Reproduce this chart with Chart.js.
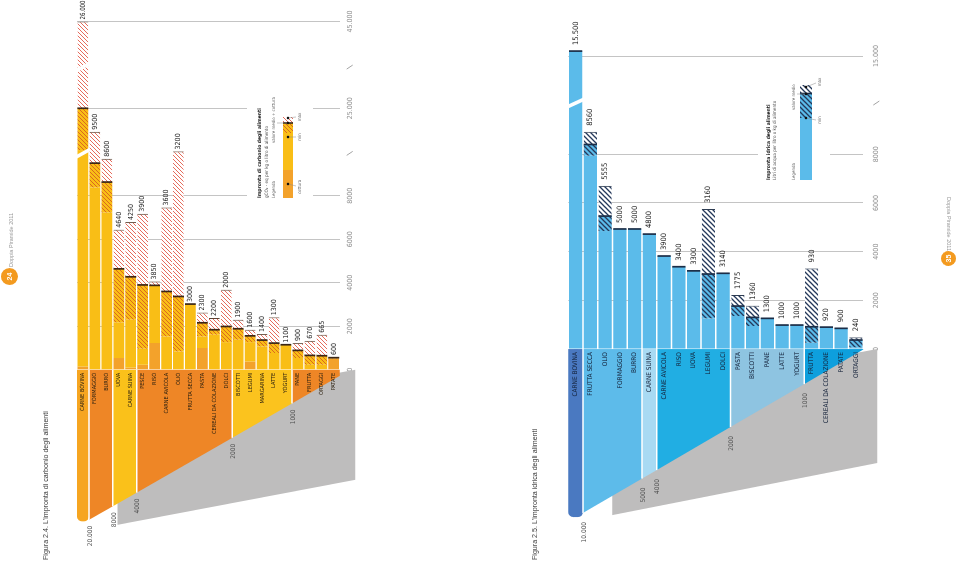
<!DOCTYPE html>
<html>
<head>
<meta charset="utf-8">
<script src="https://cdn.jsdelivr.net/npm/chart.js@4.4.1/dist/chart.umd.min.js"></script>
<style>
  html, body { margin: 0; padding: 0; background: #fff; width: 959px; height: 562px; overflow: hidden; }
  /* the spread is laid out upright and turned a quarter, like the printed pages */
  #page { position: absolute; left: 0; top: 0; width: 562px; height: 959px;
          transform-origin: 0 0; transform: translate(0, 562px) rotate(-90deg); }
  canvas { position: absolute; left: 0; }
  .caption { position: absolute; left: 2px; height: 8px; line-height: 8px; white-space: nowrap;
             font: 7.1px 'Liberation Sans', Arial, sans-serif; color: #3a3a3a; }
  .folio { position: absolute; border-radius: 50%; background: #F39A1F; color: #fff; text-align: center;
           font: bold 7px 'Liberation Sans', Arial, sans-serif; }
  .running { position: absolute; height: 7px; line-height: 7px; white-space: nowrap;
             font: 5.5px 'Liberation Sans', Arial, sans-serif; color: #9b9b9b; }
  .flip { transform: rotate(180deg); }
</style>
</head>
<body>
<div id="page">
  <canvas id="carbon" width="562" height="480" style="top:0"></canvas>
  <canvas id="water" width="562" height="479" style="top:480px"></canvas>
  <div class="caption" style="top:42px">Figura 2.4. L'impronta di carbonio degli alimenti</div>
  <div class="caption" style="top:531px">Figura 2.5. L'impronta idrica degli alimenti</div>
  <div class="folio" style="left:277px;top:1px;width:17px;height:17px;line-height:17px">24</div>
  <div class="running" style="left:295px;top:8px">Doppia Piramide 2011</div>
  <div class="folio" style="left:296px;top:941px;width:15px;height:15px;line-height:15px">35</div>
  <div class="running flip" style="left:315px;top:945px;width:50px">Doppia Piramide 2011</div>
</div>

<script>
/* ------------------------------------------------------------------ */
/*  Data - Figura 2.4, impronta di carbonio (gCO2-eq per kg o litro)   */
/* ------------------------------------------------------------------ */

var carbonFoods = ["CARNE BOVINA", "FORMAGGIO", "BURRO", "UOVA", "CARNE SUINA", "PESCE", "RISO",
  "CARNE AVICOLA", "OLIO", "FRUTTA SECCA", "PASTA", "CEREALI DA COLAZIONE", "DOLCI", "BISCOTTI",
  "LEGUMI", "MARGARINA", "LATTE", "YOGURT", "PANE", "FRUTTA", "ORTAGGI", "PATATE"];
var carbonLabels = ["26.000", "9500", "8600", "4640", "4250", "3900", "3850", "3600", "3200", "3000",
  "2300", "2200", "2000", "1900", "1600", "1400", "1300", "1100", "900", "670", "665", "600"];
var carbonCooking = [150, 0, 0, 540, 100, 230, 1230, 0, 0, 0, 1000, 0, 0, 0, 380, 0, 0, 0, 0, 0, 0, 520];
var carbonMin  = [10100, 8380, 7230, 2180, 2300, 965, 3880, 1530, 840, 3020, 1530, 1610, 1270, 1380, 1270, 1070, 770, 1150, 540, 230, 230, 520];
var carbonMean = [25000, 9500, 8630, 4640, 4275, 3900, 3880, 3600, 3370, 3020, 2160, 1840, 1990, 1885, 1560, 1365, 1225, 1150, 890, 660, 645, 555];
var carbonMax  = [45000, 10940, 9700, 6440, 6790, 7170, 4060, 7460, 10040, 3020, 2630, 2380, 3680, 2300, 1840, 1640, 2410, 1150, 1225, 1330, 1610, 590];
var carbonTicks = [0, 2000, 4000, 6000, 8000, 25000, 45000];
var carbonTickLabels = ["0", "2000", "4000", "6000", "8000", "25.000", "45.000"];
var carbonBreaks = [9950, 34500];
// coloured classes under the baseline: first index of each class, depth at each class border
var carbonClassStart = [0, 1, 3, 5, 13, 18, 22];
var carbonClassDepth = [-6970, -6900, -6280, -5650, -3130, -1550, -280];
var carbonClassLabels = ["20.000", "8000", "4000", "2000", "1000"];
var carbonShadowPos = [2.9, 22.8, 22.8, 2.9];
var carbonShadowVal = [-7130, -5060, 0, -2000];

/* ------------------------------------------------------------------ */
/*  Data - Figura 2.5, impronta idrica (litri per kg o litro)          */
/* ------------------------------------------------------------------ */

var waterFoods = ["CARNE BOVINA", "FRUTTA SECCA", "OLIO", "FORMAGGIO", "BURRO", "CARNE SUINA",
  "CARNE AVICOLA", "RISO", "UOVA", "LEGUMI", "DOLCI", "PASTA", "BISCOTTI", "PANE", "LATTE", "YOGURT",
  "FRUTTA", "CEREALI DA COLAZIONE", "PATATE", "ORTAGGI"];
var waterLabels = ["15.500", "8560", "5555", "5000", "5000", "4800", "3900", "3400", "3300", "3160",
  "3140", "1775", "1360", "1300", "1000", "1000", "930", "920", "900", "240"];
var waterMin  = [15500, 7940, 4845, 4930, 4930, 4720, 3820, 3380, 3210, 1260, 3110, 1355, 945, 1260, 985, 985, 260, 900, 850, 70];
var waterMean = [15500, 8400, 5460, 4930, 4930, 4720, 3820, 3380, 3210, 3080, 3110, 1765, 1300, 1260, 985, 985, 915, 900, 850, 370];
var waterMax  = [15500, 8920, 6700, 4930, 4930, 4720, 3820, 3380, 3210, 5750, 3110, 2220, 1780, 1260, 985, 985, 3310, 900, 850, 480];
var waterTicks = [0, 2000, 4000, 6000, 8000, 15000];
var waterTickLabels = ["0", "2000", "4000", "6000", "8000", "15.000"];
var waterBreaks = [10250];
var waterClassStart = [0, 1, 5, 6, 11, 16, 20];
var waterClassDepth = [-6900, -6730, -5320, -4970, -3200, -1440, -20];
var waterClassLabels = ["10.000", "5000", "4000", "2000", "1000"];
var waterShadowPos = [2.48, 20.45, 20.45, 2.48];
var waterShadowVal = [-6820, -4680, 0, -2000];

/* ------------------------------------------------------------------ */
/*  Palette                                                            */
/* ------------------------------------------------------------------ */

var FONT = "'Liberation Sans Narrow', 'DejaVu Sans Condensed', 'Liberation Sans', sans-serif";

var carbonColors = {
  bar: "#F9BE16", cooking: "#F3A22B", lowLine: "#DA681E", highLine: "#E35A4A",
  mean: "#3A2617", cap: "#5A4030", text: "#2E2210", cls: "#555",
  groups: ["#F6A520", "#EE8626", "#FAC11A", "#EE8626", "#FBC31E", "#EE8626"],
};
var waterColors = {
  bar: "#5BBBEA", cooking: "#5BBBEA", lowLine: "#24385A", highLine: "#24385A",
  mean: "#1B2D47", cap: "#2B3A50", text: "#14223A", cls: "#555",
  groups: ["#4A79C1", "#5DBBEA", "#A8DAF3", "#21AEE3", "#8EC4E1", "#0E9FDD"],
};
var SHADOW = "#BEBDBD";

Chart.defaults.font.family = FONT;

/* ------------------------------------------------------------------ */
/*  Broken value axis: piecewise linear between stops                  */
/* ------------------------------------------------------------------ */

class BrokenScale extends Chart.LinearScale {
  determineDataLimits() {
    var v = this.options.stopValues;
    this.min = v[0];
    this.max = v[v.length - 1];
  }
  buildTicks() {
    return this.options.tickValues.map(function (v) { return { value: v }; });
  }
  getPixelForValue(value) {
    if (value === null || value === undefined || isNaN(value)) return NaN;
    var v = this.options.stopValues, f = this.options.stopFractions, i = 1;
    while (i < v.length - 1 && value > v[i]) i++;
    return this.getPixelForDecimal(f[i - 1] + (value - v[i - 1]) / (v[i] - v[i - 1]) * (f[i] - f[i - 1]));
  }
  getValueForPixel(pixel) {
    var d = this.getDecimalForPixel(pixel), v = this.options.stopValues, f = this.options.stopFractions, i = 1;
    while (i < f.length - 1 && d > f[i]) i++;
    return v[i - 1] + (d - f[i - 1]) / (f[i] - f[i - 1]) * (v[i] - v[i - 1]);
  }
}
BrokenScale.id = "broken";
BrokenScale.defaults = {};
Chart.register(BrokenScale);

/* ------------------------------------------------------------------ */
/*  Helpers                                                            */
/* ------------------------------------------------------------------ */

function hatch(bg, line, size, width) {
  var c = document.createElement("canvas");
  c.width = size; c.height = size;
  var g = c.getContext("2d");
  if (bg) { g.fillStyle = bg; g.fillRect(0, 0, size, size); }
  g.strokeStyle = line; g.lineWidth = width;
  g.beginPath();
  g.moveTo(-1, size + 1); g.lineTo(size + 1, -1);
  g.moveTo(-1, 1); g.lineTo(1, -1);
  g.moveTo(size - 1, size + 1); g.lineTo(size + 1, size - 1);
  g.stroke();
  return g.createPattern(c, "repeat");
}

function drawText(ctx, str, x, y, font, color, align, maxWidth) {
  ctx.font = font;
  ctx.fillStyle = color;
  ctx.textAlign = align || "left";
  ctx.textBaseline = "middle";
  if (maxWidth) ctx.fillText(str, x, y, maxWidth); else ctx.fillText(str, x, y);
}

function dot(ctx, x, y) {
  ctx.fillStyle = "#111";
  ctx.beginPath(); ctx.arc(x, y, 1.3, 0, Math.PI * 2); ctx.fill();
}

function leader(ctx, x0, y0, x1, y1) {
  ctx.strokeStyle = "#8a8a8a"; ctx.lineWidth = 0.5;
  ctx.beginPath(); ctx.moveTo(x0, y0); ctx.lineTo(x1, y1); ctx.stroke();
}

/* ------------------------------------------------------------------ */
/*  Legends (drawn inside the plot, over a white patch)                */
/* ------------------------------------------------------------------ */

function carbonLegend(ctx, P) {
  ctx.fillStyle = "#fff";
  ctx.fillRect(355, 247, 114, 66);
  drawText(ctx, "Impronta di carbonio degli alimenti", 364, 260, "bold 5px " + FONT, "#222");
  drawText(ctx, "gCO\u2082 - eq per kg o litro di alimento", 364, 266.5, "4.6px " + FONT, "#444");
  drawText(ctx, "Legenda", 364, 274, "4.4px " + FONT, "#666");
  drawText(ctx, "valore medio + cottura", 419, 274, "4.4px " + FONT, "#666");
  ctx.fillStyle = P.colors.cooking; ctx.fillRect(364, 283, 28, 10);
  ctx.fillStyle = P.colors.bar; ctx.fillRect(392, 283, 37, 10);
  ctx.fillStyle = P.low; ctx.fillRect(429, 283, 10, 10);
  ctx.fillStyle = P.high; ctx.fillRect(439, 283, 6, 10);
  ctx.fillStyle = P.colors.mean; ctx.fillRect(438.2, 283, 1.6, 10);
  leader(ctx, 378, 288, 376, 296);
  leader(ctx, 425, 288, 425, 296);
  leader(ctx, 439, 288, 439, 277);
  leader(ctx, 444, 288, 445, 296);
  dot(ctx, 378, 288); dot(ctx, 425, 288); dot(ctx, 439, 288); dot(ctx, 444, 288);
  drawText(ctx, "cottura", 375, 300, "4.4px " + FONT, "#666", "center");
  drawText(ctx, "min", 425, 300, "4.4px " + FONT, "#666", "center");
  drawText(ctx, "max", 445, 300, "4.4px " + FONT, "#666", "center");
}

function waterLegend(ctx, P) {
  ctx.fillStyle = "#fff";
  ctx.fillRect(375, 278, 121, 72);
  drawText(ctx, "Impronta idrica degli alimenti", 382, 289, "bold 5px " + FONT, "#222");
  drawText(ctx, "Litri di acqua per litro o kg di alimento", 382, 294.5, "4.6px " + FONT, "#444");
  drawText(ctx, "Legenda", 382, 314, "4.4px " + FONT, "#666");
  drawText(ctx, "valore medio", 452, 314, "4.4px " + FONT, "#666");
  ctx.fillStyle = P.colors.bar; ctx.fillRect(382, 320, 62, 12);
  ctx.fillStyle = P.low; ctx.fillRect(444, 320, 25, 12);
  ctx.fillStyle = P.high; ctx.fillRect(469, 320, 8, 12);
  ctx.fillStyle = P.colors.mean; ctx.fillRect(467.7, 320, 1.6, 12);
  leader(ctx, 444, 326, 442, 336);
  leader(ctx, 468, 326, 468, 317);
  leader(ctx, 475, 326, 479, 336);
  dot(ctx, 444, 326); dot(ctx, 468, 326); dot(ctx, 475, 326);
  drawText(ctx, "min", 442, 340, "4.4px " + FONT, "#666", "center");
  drawText(ctx, "max", 480, 340, "4.4px " + FONT, "#666", "center");
}

/* ------------------------------------------------------------------ */
/*  Decorations: class wedge, shadow, labels, axis breaks              */
/* ------------------------------------------------------------------ */

function decor(o) {
  return {
    id: "decor",
    beforeDatasetsDraw: function (chart) {
      var ctx = chart.ctx, xs = chart.scales.x, ys = chart.scales.y;
      var zero = xs.getPixelForValue(0);
      var starts = o.classStart, depth = o.classDepth;
      ctx.save();

      // grey shadow under the wedge
      ctx.fillStyle = SHADOW;
      ctx.beginPath();
      o.shadowPos.forEach(function (p, k) {
        var px = xs.getPixelForValue(o.shadowVal[k]), py = ys.getPixelForValue(p);
        if (k) ctx.lineTo(px, py); else ctx.moveTo(px, py);
      });
      ctx.closePath();
      ctx.fill();

      // coloured classes
      for (var g = 0; g < starts.length - 1; g++) {
        var y0 = ys.getPixelForValue(starts[g] - 0.5), y1 = ys.getPixelForValue(starts[g + 1] - 0.5);
        ctx.fillStyle = o.colors.groups[g];
        ctx.beginPath();
        if (g === 0) {
          var dx = xs.getPixelForValue(depth[0]);
          ctx.roundRect(dx, y0, zero - dx, y1 - y0, [5, 0, 0, 5]);
        } else {
          ctx.moveTo(zero, y0);
          ctx.lineTo(xs.getPixelForValue(depth[g]), y0);
          ctx.lineTo(xs.getPixelForValue(depth[g + 1]), y1);
          ctx.lineTo(zero, y1);
          ctx.closePath();
        }
        ctx.fill();
      }

      // white class borders
      ctx.strokeStyle = "#fff";
      ctx.lineWidth = 1.5;
      for (var b = 1; b < starts.length - 1; b++) {
        var yb = ys.getPixelForValue(starts[b] - 0.5);
        ctx.beginPath();
        ctx.moveTo(zero, yb);
        ctx.lineTo(xs.getPixelForValue(depth[b]), yb);
        ctx.stroke();
      }

      // food names
      o.cats.forEach(function (c, i) {
        drawText(ctx, c, zero - 3, ys.getPixelForValue(i), o.catFont + " " + FONT, o.colors.text, "right");
      });

      // class thresholds along the slope
      o.classLabels.forEach(function (t, k) {
        var bnd = starts[k + 1];
        drawText(ctx, t, xs.getPixelForValue(depth[k + 1]) - o.classGap, ys.getPixelForValue(bnd - 0.5) + 1,
          "6.5px " + FONT, o.colors.cls, "right");
      });
      ctx.restore();
    },

    afterDatasetsDraw: function (chart) {
      var ctx = chart.ctx, xs = chart.scales.x, ys = chart.scales.y, area = chart.chartArea;
      var half = (ys.getPixelForValue(1) - ys.getPixelForValue(0)) * 0.45 + 1;
      var linearTop = xs.options.stopValues[1];
      ctx.save();

      // white slanted gaps on the bars that run past the break
      ctx.fillStyle = "#fff";
      o.max.forEach(function (m, i) {
        if (m <= linearTop) return;
        var cy = ys.getPixelForValue(i);
        o.breaks.forEach(function (b) {
          if (b >= m) return;
          var cx = xs.getPixelForValue(b);
          ctx.beginPath();
          ctx.moveTo(cx - 5.5, cy - half); ctx.lineTo(cx - 1.5, cy - half);
          ctx.lineTo(cx + 5.5, cy + half); ctx.lineTo(cx + 1.5, cy + half);
          ctx.closePath();
          ctx.fill();
        });
      });

      // break marks on the value axis
      ctx.strokeStyle = "#8C8C8C";
      ctx.lineWidth = 0.8;
      o.breaks.forEach(function (b) {
        var cx = xs.getPixelForValue(b), cy = area.bottom + o.tickPad + 4;
        ctx.beginPath(); ctx.moveTo(cx - 2, cy - 3); ctx.lineTo(cx + 2, cy + 3); ctx.stroke();
      });

      // value labels past each bar, kept inside the page edge
      o.labels.forEach(function (t, i) {
        var lx = xs.getPixelForValue(o.max[i]) + o.labelGap;
        drawText(ctx, t, lx, ys.getPixelForValue(i), o.valueFont + " " + FONT, "#222", "left",
          chart.width - lx - 0.5);
      });

      o.legend(ctx, o);
      ctx.restore();
    },
  };
}

/* ------------------------------------------------------------------ */
/*  Chart builder                                                      */
/* ------------------------------------------------------------------ */

function renderFootprint(canvas, o) {
  function seg(a, b) {
    return o.cats.map(function (c, i) { return b[i] > a[i] ? [a[i], b[i]] : null; });
  }
  var zeros = o.cats.map(function () { return 0; });

  new Chart(canvas, {
    type: "bar",
    data: {
      labels: o.cats,
      datasets: [
        { type: "scatter", order: 0,
          data: o.cats.map(function (c, i) { return { x: o.mean[i], y: c }; }),
          pointStyle: "line", pointRotation: 90, pointRadius: o.markRadius, pointHoverRadius: o.markRadius,
          pointBorderWidth: 1.7, pointBorderColor: o.colors.mean, pointBackgroundColor: o.colors.mean },
        { order: 1, data: seg(o.mean, o.max), backgroundColor: o.high, borderColor: o.colors.cap,
          borderWidth: { top: 0, right: 1, bottom: 0, left: 0 }, borderSkipped: false },
        { order: 2, data: seg(o.min, o.mean), backgroundColor: o.low },
        { order: 3, data: seg(o.cooking, o.min), backgroundColor: o.colors.bar },
        { order: 4, data: seg(zeros, o.cooking), backgroundColor: o.colors.cooking },
      ],
    },
    options: {
      indexAxis: "y",
      responsive: false,
      animation: false,
      events: [],
      layout: { padding: o.padding },
      datasets: {
        bar: { grouped: false, barPercentage: 0.9, categoryPercentage: 1, inflateAmount: 0, borderWidth: 0 },
      },
      plugins: { legend: { display: false }, tooltip: { enabled: false } },
      scales: {
        x: {
          type: "broken",
          stopValues: o.stopValues,
          stopFractions: o.stopFractions,
          tickValues: o.ticks,
          afterFit: function (s) { s.height = 20; },
          border: { display: false },
          grid: {
            drawTicks: false, lineWidth: 1,
            color: function (c) { return c.tick && c.tick.value === 0 ? "rgba(0,0,0,0)" : "#C4C4C4"; },
          },
          ticks: {
            autoSkip: false, maxRotation: 0, padding: o.tickPad, color: "#8C8C8C",
            font: { family: FONT, size: 7 },
            callback: function (v, i) { return o.tickLabels[i]; },
          },
        },
        y: { type: "category", display: false, offset: true, grid: { display: false } },
      },
    },
    plugins: [decor(o)],
  });
}

/* ------------------------------------------------------------------ */
/*  Bootstrap                                                          */
/* ------------------------------------------------------------------ */

var carbon = {
  cats: carbonFoods, labels: carbonLabels, cooking: carbonCooking,
  min: carbonMin, mean: carbonMean, max: carbonMax,
  ticks: carbonTicks, tickLabels: carbonTickLabels, breaks: carbonBreaks,
  classStart: carbonClassStart, classDepth: carbonClassDepth, classLabels: carbonClassLabels,
  shadowPos: carbonShadowPos, shadowVal: carbonShadowVal,
  colors: carbonColors,
  low: hatch(carbonColors.bar, carbonColors.lowLine, 4, 1),
  high: hatch("#fff", carbonColors.highLine, 4, 0.9),
  stopValues: [-7000, 11000, 25000, 45000],
  stopFractions: [0, 0.7822, 0.8266, 1],
  padding: { top: 77, bottom: 120.3, left: 40, right: 21.5 },
  tickPad: 6, labelGap: 2, classGap: 6, markRadius: 5.4, catFont: "5.6px", valueFont: "7px",
  legend: carbonLegend,
};

var water = {
  cats: waterFoods, labels: waterLabels, cooking: waterFoods.map(function () { return 0; }),
  min: waterMin, mean: waterMean, max: waterMax,
  ticks: waterTicks, tickLabels: waterTickLabels, breaks: waterBreaks,
  classStart: waterClassStart, classDepth: waterClassDepth, classLabels: waterClassLabels,
  shadowPos: waterShadowPos, shadowVal: waterShadowVal,
  colors: waterColors,
  low: hatch(waterColors.bar, waterColors.lowLine, 5, 1.3),
  high: hatch("#fff", waterColors.highLine, 5, 1.3),
  stopValues: [-7000, 10000, 15000, 18500],
  stopFractions: [0, 0.8313, 0.9307, 1],
  padding: { top: 88.3, bottom: 75.7, left: 42.5, right: 21.5 },
  tickPad: 9, labelGap: 6, classGap: 9, markRadius: 6.6, catFont: "6.5px", valueFont: "7.5px",
  legend: waterLegend,
};

renderFootprint(document.getElementById("carbon"), carbon);
renderFootprint(document.getElementById("water"), water);
</script>
</body>
</html>
